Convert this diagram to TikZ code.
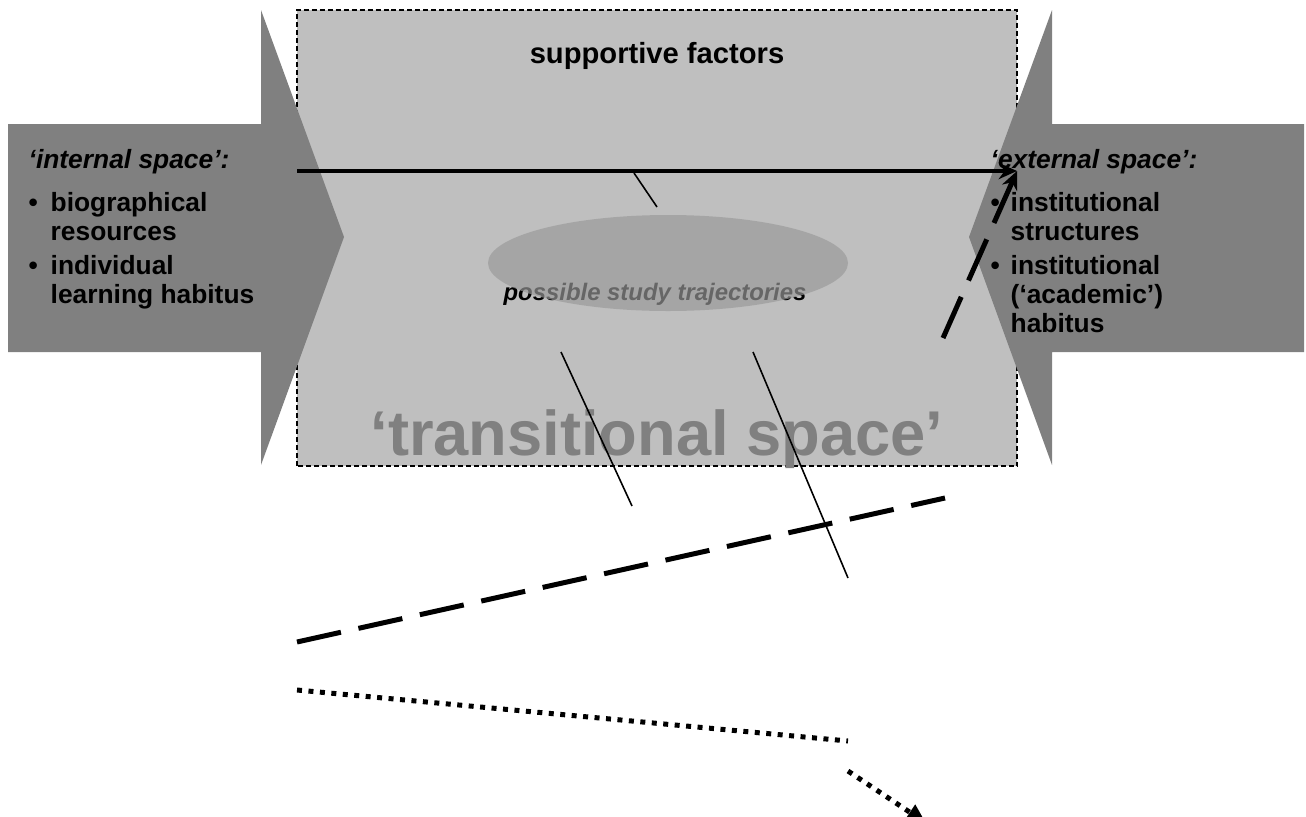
\documentclass[tikz,border=0pt]{standalone}
\usepackage{fontspec}
\setmainfont{Liberation Sans}
\usetikzlibrary{arrows.meta,calc,positioning}
\colorlet{spacegray}{black!25}
\colorlet{arrowgray}{black!50}
\colorlet{ovalgray}{black!40}
\colorlet{titlegray}{black!50}

\begin{document}
\begin{tikzpicture}[>=Stealth,
  sidetext/.style={font=\bfseries\fontsize{7.5}{8.25}\selectfont, align=left, inner sep=0pt, anchor=base west},
  thinline/.style={line width=0.45pt},
  longdash/.style={line width=1.42pt, dash pattern=on 12.8pt off 5.1pt},
  squaredots/.style={line width=1.42pt, dash pattern=on 1.42pt off 1.85pt}]
\useasboundingbox (0,0) rectangle (13.06,8.16);
% transitional space (dashed frame)
\filldraw[fill=spacegray, draw=black, line width=0.4pt, dash pattern=on 1.42pt off 0.85pt]
  (2.97,3.50) rectangle (10.17,8.06);
% block arrows: internal space from the left, external space from the right
\fill[arrowgray] (0.08,6.92) -- (2.61,6.92) -- (2.61,8.06) -- (3.44,5.79) -- (2.61,3.51)
  -- (2.61,4.64) -- (0.08,4.64) -- cycle;
\fill[arrowgray] (13.04,6.92) -- (10.52,6.92) -- (10.52,8.06) -- (9.69,5.79) -- (10.52,3.51)
  -- (10.52,4.64) -- (13.04,4.64) -- cycle;
% texts (multi-line blocks sit on the baseline of their last line)
\node[font=\bfseries\fontsize{8.3}{10}\selectfont, anchor=base] (support) at (6.57,7.53) {supportive factors};
\node[font=\bfseries\fontsize{18}{20}\selectfont, text=titlegray, anchor=base] (trans) at (6.57,3.61) {‘transitional space’};
\node[sidetext] (internal) at (0.28,5.13) {\textit{‘internal space’:}\\[4pt]
  \makebox[0.22cm][l]{\textbullet}biographical\\
  \hspace*{0.22cm}resources\\[1.4pt]
  \makebox[0.22cm][l]{\textbullet}individual\\
  \hspace*{0.22cm}learning habitus};
\node[sidetext] (external) at (9.90,4.84) {\textit{‘external space’:}\\[4pt]
  \makebox[0.20cm][l]{\textbullet}institutional\\
  \hspace*{0.20cm}structures\\[1.4pt]
  \makebox[0.20cm][l]{\textbullet}institutional\\
  \hspace*{0.20cm}(‘academic’)\\
  \hspace*{0.20cm}habitus};
% possible study trajectories, half covered by the oval
\node[font=\bfseries\itshape\fontsize{6.8}{8}\selectfont, anchor=base] (traj) at (6.55,5.16) {possible study trajectories};
\fill[ovalgray, opacity=0.667] (6.68,5.53) ellipse [x radius=1.80, y radius=0.48];
% end points of the lines
\coordinate (hstart) at (2.97,6.45);  \coordinate (hend) at (10.17,6.45);
\coordinate (dstart) at (9.43,4.78);
\coordinate (t1a) at (6.34,6.43);  \coordinate (t1b) at (6.57,6.09);
\coordinate (t2a) at (5.61,4.64);  \coordinate (t2b) at (6.32,3.10);
\coordinate (t3a) at (7.53,4.64);  \coordinate (t3b) at (8.48,2.38);
\coordinate (ldA) at (2.97,1.74);  \coordinate (ldB) at (9.45,3.18);
\coordinate (dotA) at (2.97,1.26); \coordinate (dotB) at (8.48,0.75);
\coordinate (daA) at (8.48,0.45);  \coordinate (daB) at (9.26,-0.07);
% thin strokes
\draw[thinline] (t1a) -- (t1b);
\draw[thinline] (t2a) -- (t2b);
\draw[thinline] (t3a) -- (t3b);
% trajectories
\draw[line width=1.3pt, -{Stealth[length=5.2pt,width=4.6pt]}] (hstart) -- (hend);
\draw[longdash, -{Stealth[length=5.2pt,width=4.6pt]}] (dstart) -- (hend);
\draw[longdash] (ldA) -- (ldB);
\draw[squaredots] (dotA) -- (dotB);
\draw[squaredots, -{Triangle[length=5.5pt,width=5pt]}] (daA) -- (daB);
\end{tikzpicture}
\end{document}
